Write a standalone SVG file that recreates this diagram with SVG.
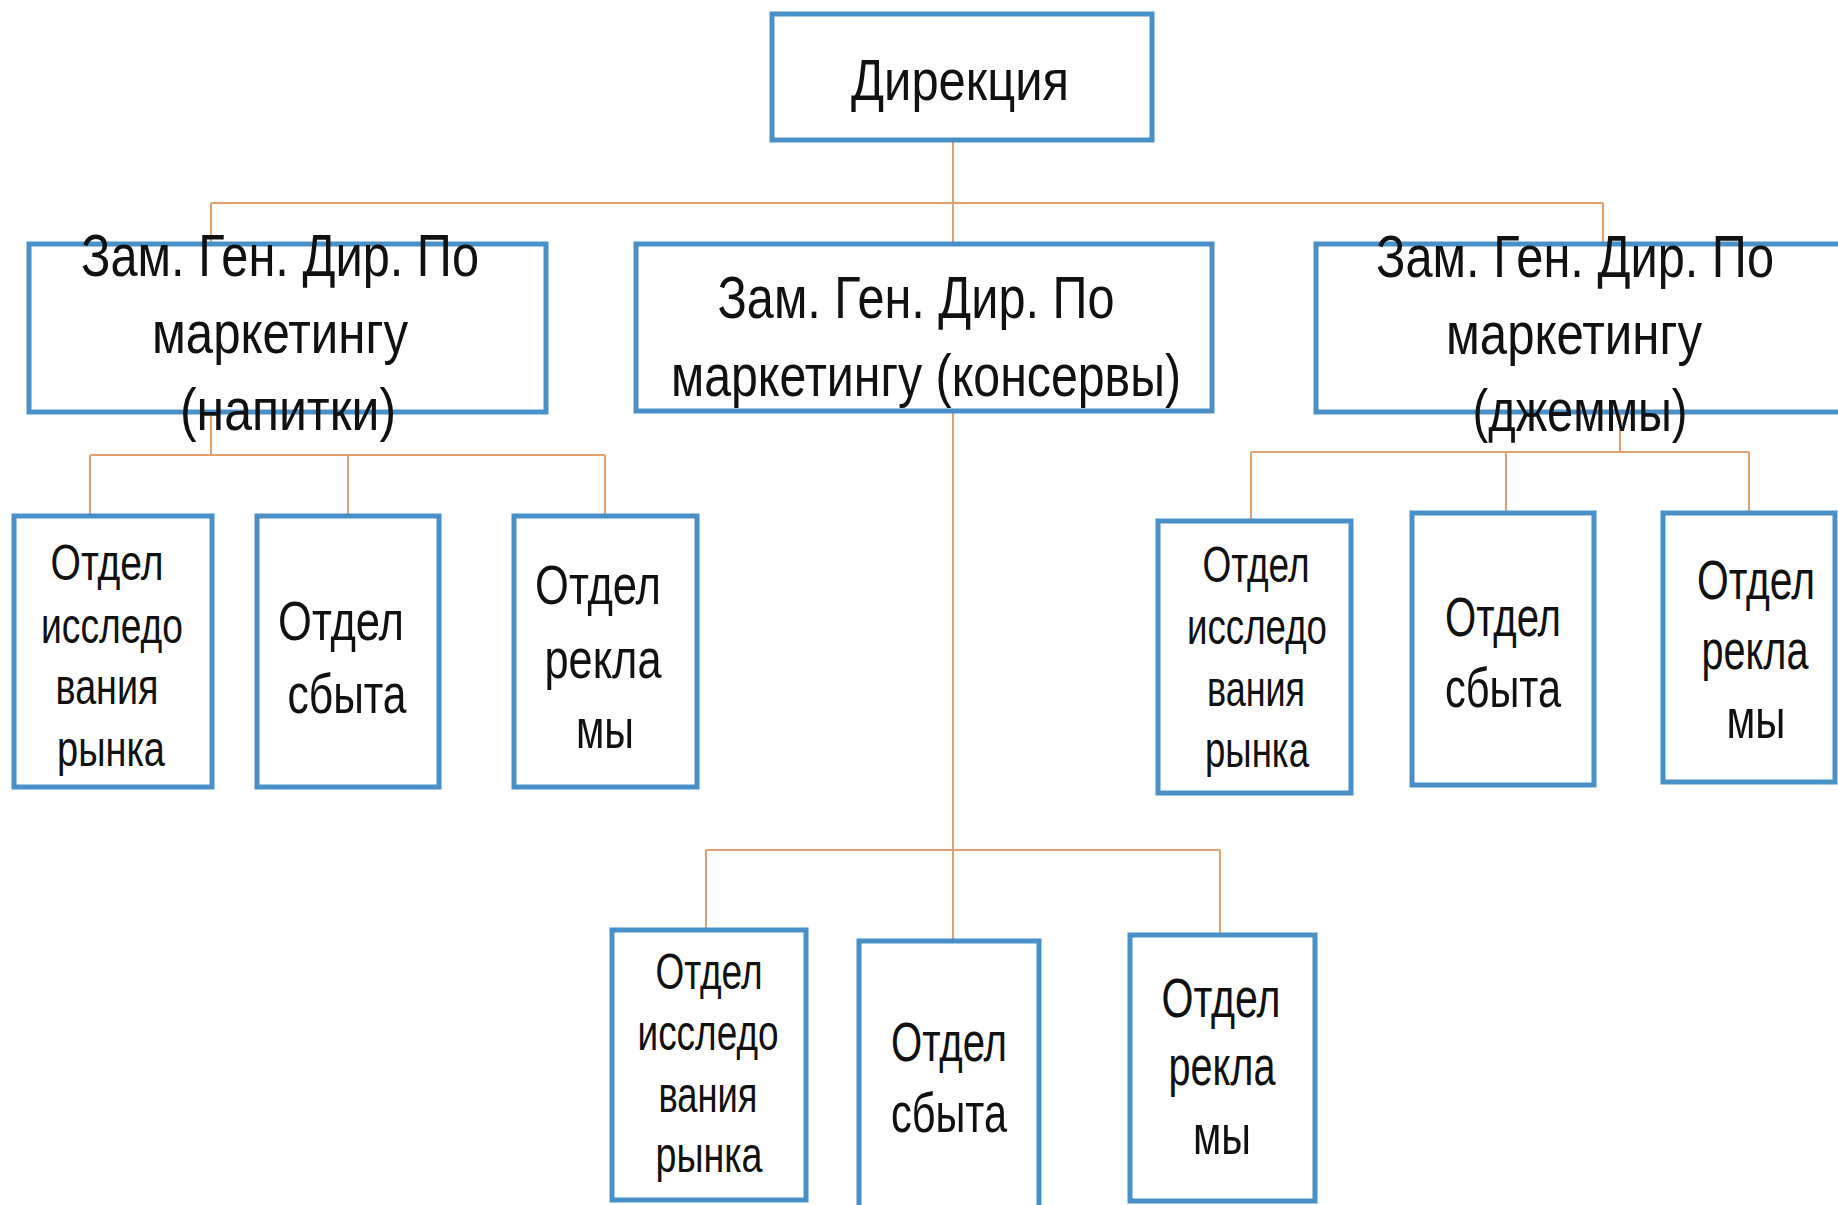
<svg xmlns="http://www.w3.org/2000/svg" width="1838" height="1205" viewBox="0 0 1838 1205">
<style>
.bg{fill:#ffffff}
.box{fill:#ffffff;stroke:#4a90c8;stroke-width:5}
.con{fill:none;stroke:#e2a06e;stroke-width:2}
text{font-family:"Liberation Sans",Arial,sans-serif;fill:#111111;text-anchor:middle}
.t0{font-size:58px}
.t1{font-size:60px}
.t2{font-size:56px}
.t3{font-size:50px}
</style>
<rect class="bg" x="0" y="0" width="1838" height="1205"/>
<g id="connectors">
<path class="con" d="M953,141 V850"/>
<path class="con" d="M211,203 H1603"/>
<path class="con" d="M211,203 V244"/>
<path class="con" d="M1603,203 V244"/>
<path class="con" d="M211,413 V455"/>
<path class="con" d="M90,455 H605"/>
<path class="con" d="M90,455 V516 M348,455 V516 M605,455 V516"/>
<path class="con" d="M1620,412 V452"/>
<path class="con" d="M1251,452 H1749"/>
<path class="con" d="M1251,452 V520 M1506,452 V512 M1749,452 V512"/>
<path class="con" d="M706,850 H1220"/>
<path class="con" d="M706,850 V930 M953,850 V941 M1220,850 V934"/>
</g>
<g id="direkcia">
<rect class="box" x="772" y="14" width="380" height="126"/>
<text class="t0" x="960" y="100" textLength="218" lengthAdjust="spacingAndGlyphs">Дирекция</text>
</g>
<g id="zam-napitki">
<rect class="box" x="29" y="244" width="517" height="168"/>
<text class="t1" x="280" y="276" textLength="398" lengthAdjust="spacingAndGlyphs">Зам. Ген. Дир. По</text>
<text class="t1" x="280" y="353" textLength="256" lengthAdjust="spacingAndGlyphs">маркетингу</text>
<text class="t1" x="288" y="430" textLength="216" lengthAdjust="spacingAndGlyphs">(напитки)</text>
</g>
<g id="zam-konservy">
<rect class="box" x="636" y="244" width="576" height="167"/>
<text class="t1" x="916" y="318" textLength="397" lengthAdjust="spacingAndGlyphs">Зам. Ген. Дир. По</text>
<text class="t1" x="926" y="396" textLength="510" lengthAdjust="spacingAndGlyphs">маркетингу (консервы)</text>
</g>
<g id="zam-dzhemmy">
<rect class="box" x="1316" y="244" width="540" height="168"/>
<text class="t1" x="1575" y="277" textLength="398" lengthAdjust="spacingAndGlyphs">Зам. Ген. Дир. По</text>
<text class="t1" x="1574" y="354" textLength="256" lengthAdjust="spacingAndGlyphs">маркетингу</text>
<text class="t1" x="1580" y="431" textLength="215" lengthAdjust="spacingAndGlyphs">(джеммы)</text>
</g>
<g id="l1">
<rect class="box" x="14" y="516" width="198" height="271"/>
<text class="t3" x="107" y="580" textLength="113" lengthAdjust="spacingAndGlyphs">Отдел</text>
<text class="t3" x="112" y="643" textLength="142" lengthAdjust="spacingAndGlyphs">исследо</text>
<text class="t3" x="107" y="704" textLength="103" lengthAdjust="spacingAndGlyphs">вания</text>
<text class="t3" x="111" y="766" textLength="108" lengthAdjust="spacingAndGlyphs">рынка</text>
</g>
<g id="l2">
<rect class="box" x="257" y="516" width="182" height="271"/>
<text class="t2" x="341" y="640" textLength="126" lengthAdjust="spacingAndGlyphs">Отдел</text>
<text class="t2" x="347" y="713" textLength="119" lengthAdjust="spacingAndGlyphs">сбыта</text>
</g>
<g id="l3">
<rect class="box" x="514" y="516" width="183" height="271"/>
<text class="t2" x="598" y="604" textLength="126" lengthAdjust="spacingAndGlyphs">Отдел</text>
<text class="t2" x="603" y="678" textLength="117" lengthAdjust="spacingAndGlyphs">рекла</text>
<text class="t2" x="605" y="748" textLength="58" lengthAdjust="spacingAndGlyphs">мы</text>
</g>
<g id="r1">
<rect class="box" x="1158" y="521" width="193" height="272"/>
<text class="t3" x="1256" y="582" textLength="107" lengthAdjust="spacingAndGlyphs">Отдел</text>
<text class="t3" x="1257" y="644" textLength="140" lengthAdjust="spacingAndGlyphs">исследо</text>
<text class="t3" x="1256" y="706" textLength="98" lengthAdjust="spacingAndGlyphs">вания</text>
<text class="t3" x="1257" y="767" textLength="104" lengthAdjust="spacingAndGlyphs">рынка</text>
</g>
<g id="r2">
<rect class="box" x="1412" y="513" width="182" height="272"/>
<text class="t2" x="1503" y="636" textLength="116" lengthAdjust="spacingAndGlyphs">Отдел</text>
<text class="t2" x="1503" y="707" textLength="116" lengthAdjust="spacingAndGlyphs">сбыта</text>
</g>
<g id="r3">
<rect class="box" x="1663" y="513" width="172" height="269"/>
<text class="t2" x="1756" y="599" textLength="118" lengthAdjust="spacingAndGlyphs">Отдел</text>
<text class="t2" x="1755" y="669" textLength="107" lengthAdjust="spacingAndGlyphs">рекла</text>
<text class="t2" x="1756" y="738" textLength="59" lengthAdjust="spacingAndGlyphs">мы</text>
</g>
<g id="b1">
<rect class="box" x="612" y="930" width="194" height="270"/>
<text class="t3" x="709" y="989" textLength="107" lengthAdjust="spacingAndGlyphs">Отдел</text>
<text class="t3" x="708" y="1050" textLength="141" lengthAdjust="spacingAndGlyphs">исследо</text>
<text class="t3" x="708" y="1112" textLength="99" lengthAdjust="spacingAndGlyphs">вания</text>
<text class="t3" x="709" y="1172" textLength="107" lengthAdjust="spacingAndGlyphs">рынка</text>
</g>
<g id="b2">
<rect class="box" x="859" y="941" width="180" height="275"/>
<text class="t2" x="949" y="1061" textLength="116" lengthAdjust="spacingAndGlyphs">Отдел</text>
<text class="t2" x="949" y="1132" textLength="116" lengthAdjust="spacingAndGlyphs">сбыта</text>
</g>
<g id="b3">
<rect class="box" x="1130" y="935" width="185" height="266"/>
<text class="t2" x="1221" y="1017" textLength="119" lengthAdjust="spacingAndGlyphs">Отдел</text>
<text class="t2" x="1222" y="1085" textLength="107" lengthAdjust="spacingAndGlyphs">рекла</text>
<text class="t2" x="1222" y="1154" textLength="58" lengthAdjust="spacingAndGlyphs">мы</text>
</g>
</svg>
